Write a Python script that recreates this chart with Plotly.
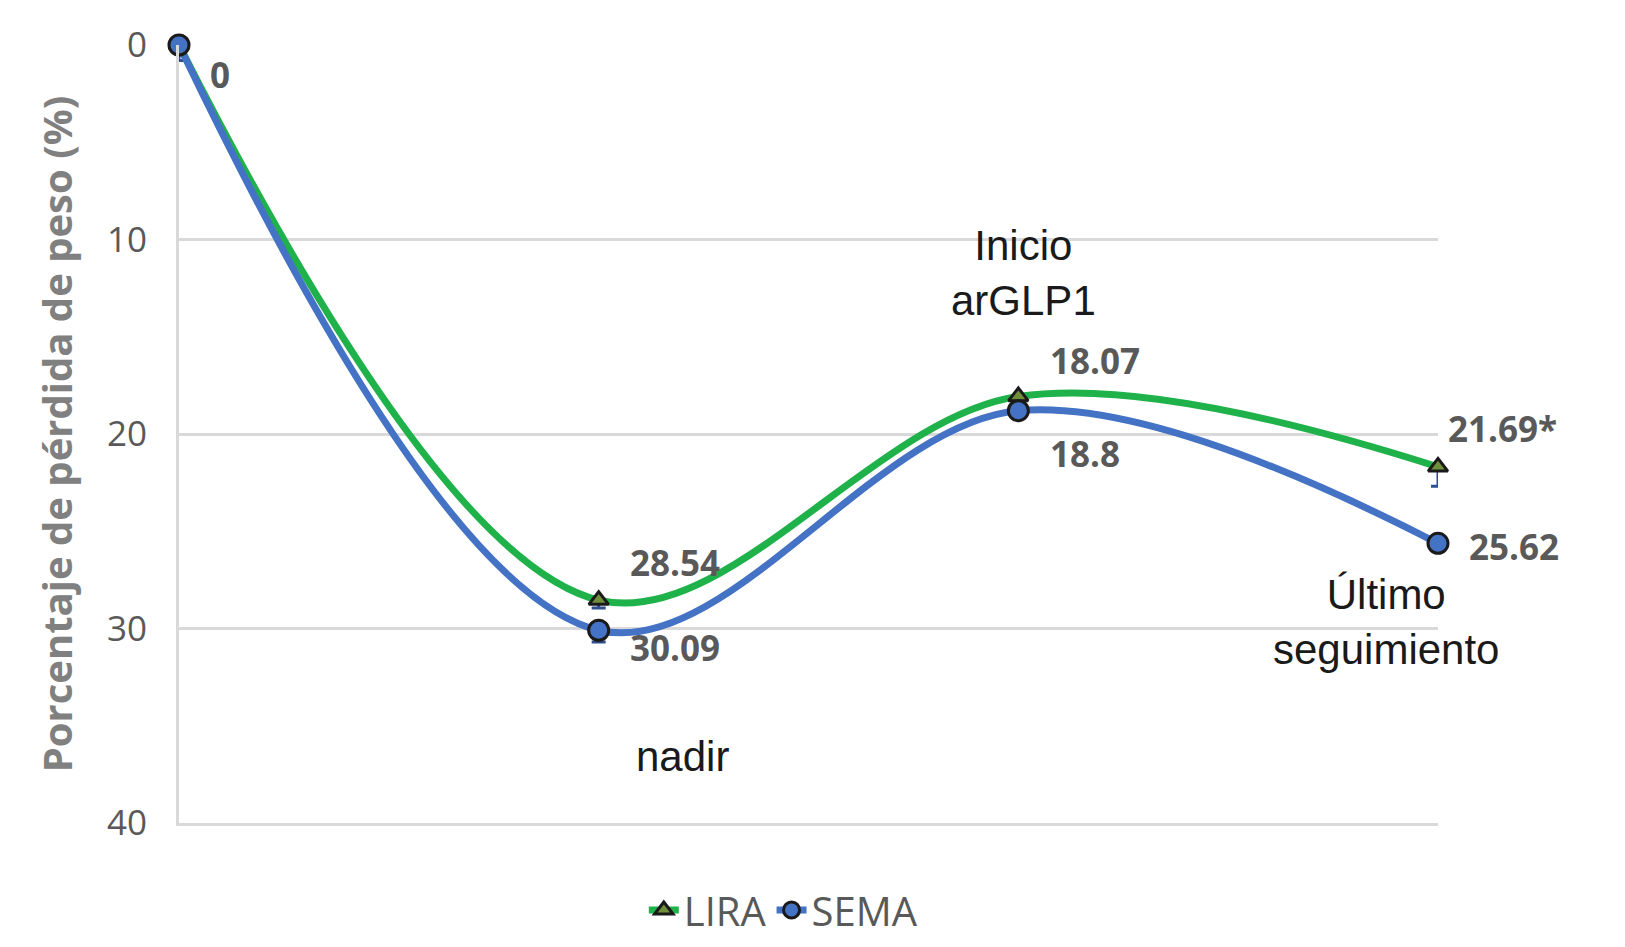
import plotly.graph_objects as go

x = [0, 1, 2, 3]
lira = [0, 28.54, 18.07, 21.69]
sema = [0, 30.09, 18.8, 25.62]
lira_err = [0, 0.4, 0.4, 1.0]
sema_err = [0.8, 0.6, 0.4, 0.3]

fig = go.Figure()
fig.add_trace(go.Scatter(x=x, y=lira, name="LIRA", mode="lines+markers",
    line=dict(color="#1fb24a", width=7, shape="spline", smoothing=1.0),
    marker=dict(symbol="triangle-up", size=17, color="#6f8f3a", line=dict(color="#1a1a1a", width=3)),
    error_y=dict(type="data", array=lira_err, arrayminus=[0]*4, color="#2f4f8f", thickness=3, width=7)))
fig.add_trace(go.Scatter(x=x, y=sema, name="SEMA", mode="lines+markers",
    line=dict(color="#4472c4", width=7, shape="spline", smoothing=1.0),
    marker=dict(symbol="circle", size=20, color="#4472c4", line=dict(color="#1a1a1a", width=3)),
    error_y=dict(type="data", array=sema_err, arrayminus=[0]*4, color="#2f4f8f", thickness=3, width=7)))

def px(v): return v / 3.0
def py(v): return 1 - v / 40.0

lab = dict(font=dict(size=35, color="#595959", family="Open Sans"), showarrow=False, xanchor="left",
           xref="paper", yref="paper")
for tx, xx, yy in [("0", 0.07, 0.2), ("28.54", 1.07, 26.6), ("30.09", 1.07, 32.3),
                   ("18.07", 2.07, 16.2), ("18.8", 2.07, 21.0), ("21.69*", 3.02, 19.7), ("25.62", 3.07, 25.8)]:
    fig.add_annotation(x=px(xx), y=py(yy), text="<b>"+tx+"</b>", **lab)
txt = dict(font=dict(size=42, color="#1a1a1a", family="Liberation Sans"), showarrow=False,
           xref="paper", yref="paper")
fig.add_annotation(x=px(2.19), y=py(9.0), text="Inicio<br>arGLP1", **txt)
fig.add_annotation(x=px(1.2), y=py(37.9), text="nadir", **txt)
fig.add_annotation(x=px(3.15), y=py(32.4), text="Último<br>seguimiento", **txt)

fig.update_layout(
    width=1625, height=947, plot_bgcolor="white", paper_bgcolor="white",
    margin=dict(l=171, r=195, t=28, b=121),
    showlegend=True,
    legend=dict(orientation="h", x=0.48, xanchor="center", y=-0.07, yanchor="top",
                font=dict(size=40, color="#595959", family="Open Sans")),
    xaxis=dict(range=[0, 3], showticklabels=False, showgrid=False, zeroline=False,
               showline=True, linecolor="#d9d9d9", linewidth=3),
    yaxis=dict(range=[40, 0], tickvals=[0, 10, 20, 30, 40], gridcolor="#d9d9d9", gridwidth=3,
               zeroline=False, showline=True, linecolor="#d9d9d9", linewidth=3,
               tickfont=dict(size=35, color="#595959", family="Open Sans"), ticks="", ticklabelstandoff=22,
               title=dict(text="<b>Porcentaje de pérdida de peso (%)</b>", standoff=22,
                          font=dict(size=40, color="#808080", family="Open Sans"))),
)
fig.update_traces(cliponaxis=False)
fig.write_html("out.html")
